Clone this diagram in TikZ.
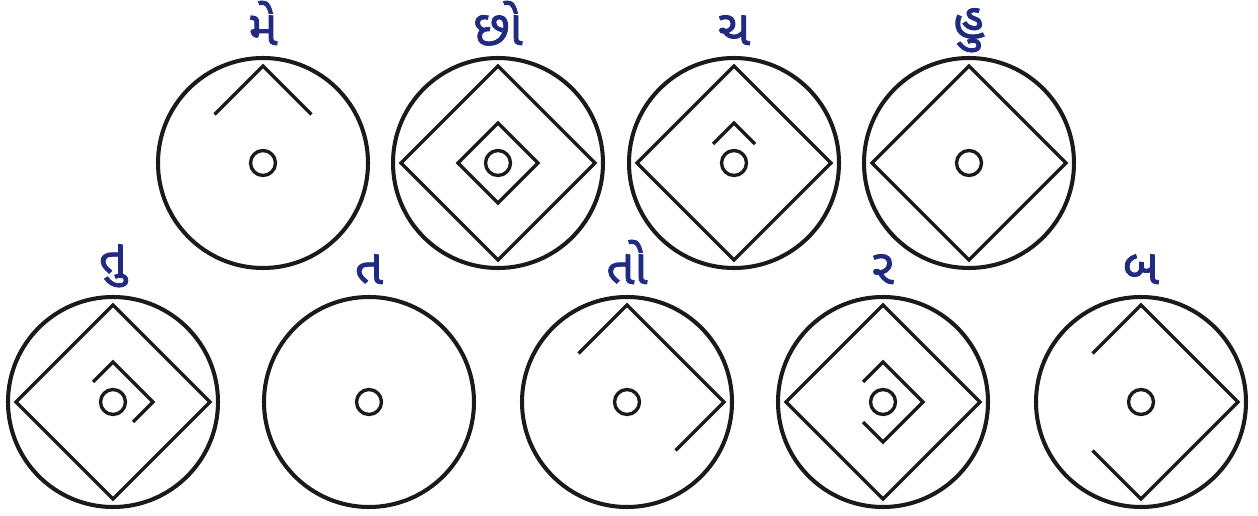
\documentclass[tikz,border=0pt]{standalone}
\usepackage{fontspec}
\newfontfamily\gujfont[Script=Gujarati, FakeBold=1.6]{Noto Sans Gujarati UI}
\definecolor{label-blue}{HTML}{1F2A80}
\definecolor{jet}{HTML}{1A1A1A}

\begin{document}
\begin{tikzpicture}[
    ring/.style={line width=2.3pt, color=jet},
    edge/.style={line width=1.9pt, color=jet, line join=miter},
    lbl/.style={text=label-blue, anchor=base, inner sep=0,
      font={\gujfont\fontsize{28}{32}\selectfont}}]
    \useasboundingbox (0,0) rectangle (25.16,10.3);
    % top row
    \begin{scope}[shift={(5.26,7.04)}]
      \draw[ring] (0,0) circle (2.1);
      \draw[edge] (0,0) circle (0.25);
      \draw[edge] (-0.97,0.97) -- (0,1.94) -- (0.97,0.97);
      \node[lbl] (me) at (0,2.36) {મે};
    \end{scope}
    \begin{scope}[shift={(9.96,7.04)}]
      \draw[ring] (0,0) circle (2.1);
      \draw[edge] (0,0) circle (0.25);
      \draw[edge] (0,1.94) -- (1.94,0) -- (0,-1.94) -- (-1.94,0) -- cycle;
      \draw[edge] (0,0.8) -- (0.8,0) -- (0,-0.8) -- (-0.8,0) -- cycle;
      \node[lbl] (chho) at (0,2.36) {છો};
    \end{scope}
    \begin{scope}[shift={(14.68,7.04)}]
      \draw[ring] (0,0) circle (2.1);
      \draw[edge] (0,0) circle (0.25);
      \draw[edge] (0,1.94) -- (1.94,0) -- (0,-1.94) -- (-1.94,0) -- cycle;
      \draw[edge] (-0.42,0.38) -- (0,0.8) -- (0.42,0.38);
      \node[lbl] (cha) at (0,2.36) {ચ};
    \end{scope}
    \begin{scope}[shift={(19.38,7.04)}]
      \draw[ring] (0,0) circle (2.1);
      \draw[edge] (0,0) circle (0.25);
      \draw[edge] (0,1.94) -- (1.94,0) -- (0,-1.94) -- (-1.94,0) -- cycle;
      \node[lbl] (hu) at (0,2.5) {હુ};
    \end{scope}
    % bottom row
    \begin{scope}[shift={(2.26,2.26)}]
      \draw[ring] (0,0) circle (2.1);
      \draw[edge] (0,0) circle (0.25);
      \draw[edge] (0,1.94) -- (1.94,0) -- (0,-1.94) -- (-1.94,0) -- cycle;
      \draw[edge] (-0.4,0.4) -- (0,0.8) -- (0.8,0) -- (0.4,-0.4);
      \node[lbl] (tu) at (0,2.56) {તુ};
    \end{scope}
    \begin{scope}[shift={(7.38,2.26)}]
      \draw[ring] (0,0) circle (2.1);
      \draw[edge] (0,0) circle (0.25);
      \node[lbl] (ta) at (0,2.36) {ત};
    \end{scope}
    \begin{scope}[shift={(12.54,2.26)}]
      \draw[ring] (0,0) circle (2.1);
      \draw[edge] (0,0) circle (0.25);
      \draw[edge] (-0.97,0.97) -- (0,1.94) -- (1.94,0) -- (0.97,-0.97);
      \node[lbl] (to) at (0,2.36) {તો};
    \end{scope}
    \begin{scope}[shift={(17.66,2.26)}]
      \draw[ring] (0,0) circle (2.1);
      \draw[edge] (0,0) circle (0.25);
      \draw[edge] (0,1.94) -- (1.94,0) -- (0,-1.94) -- (-1.94,0) -- cycle;
      \draw[edge] (-0.4,0.4) -- (0,0.8) -- (0.8,0) -- (0,-0.8) -- (-0.4,-0.4);
      \node[lbl] (ra) at (0,2.36) {ર};
    \end{scope}
    \begin{scope}[shift={(22.82,2.26)}]
      \draw[ring] (0,0) circle (2.1);
      \draw[edge] (0,0) circle (0.25);
      \draw[edge] (-0.97,0.97) -- (0,1.94) -- (1.94,0) -- (0,-1.94) -- (-0.97,-0.97);
      \node[lbl] (ba) at (0,2.36) {બ};
    \end{scope}
  \end{tikzpicture}
\end{document}
